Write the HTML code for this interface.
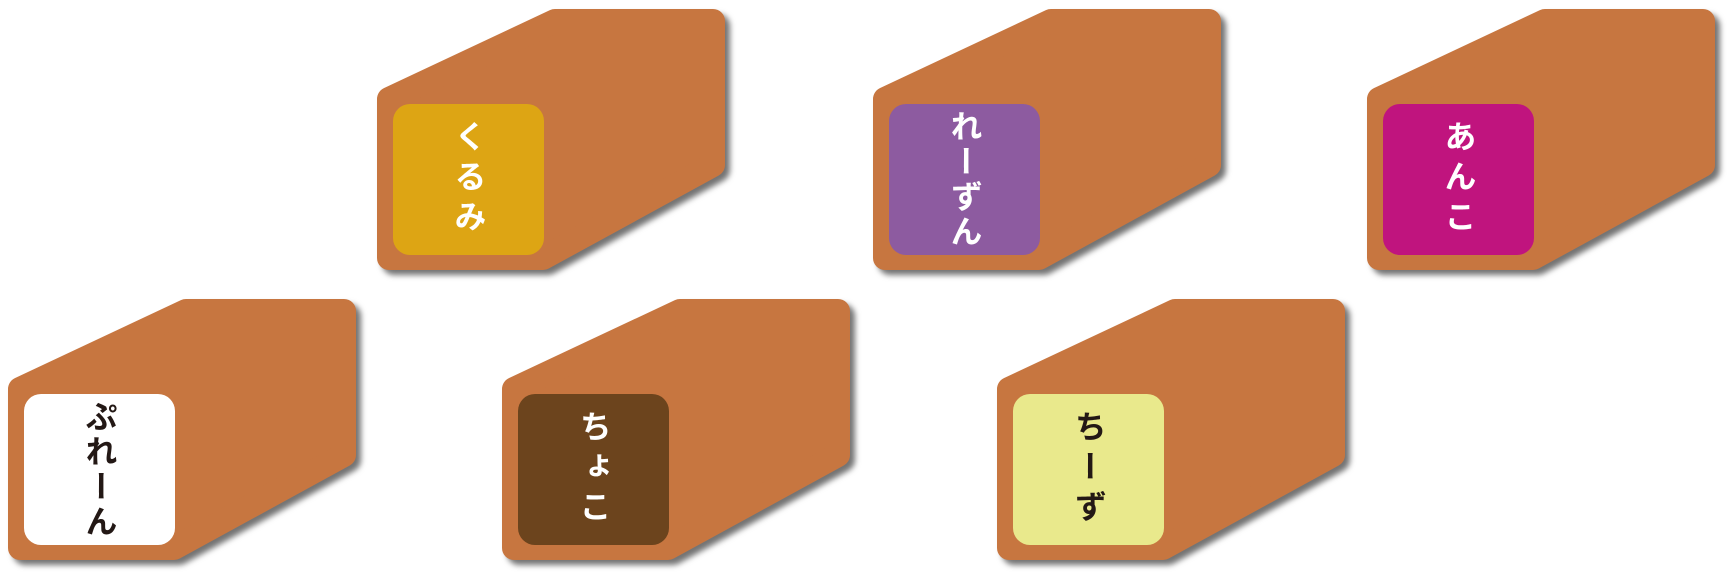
<!DOCTYPE html>
<html><head><meta charset="utf-8"><style>
html,body{margin:0;padding:0;background:#fff;width:1735px;height:584px;overflow:hidden;position:relative}
.b{position:absolute;width:360px;height:275px}
.b svg{position:absolute;left:0;top:0;overflow:visible;filter:drop-shadow(5px 5px 3px rgba(0,0,0,.55))}
.l{position:absolute;left:16px;top:95px;width:151px;height:151px;border-radius:17px;display:flex;align-items:center;justify-content:center}
.t{writing-mode:vertical-rl;white-space:nowrap;font-family:"Liberation Sans","Noto Sans CJK JP",sans-serif;font-size:32px;line-height:1;font-weight:700}
.s3{letter-spacing:8px}.s4{letter-spacing:3px}
.w{color:#fff}.k{color:#231815}
</style></head><body>
<div class="b" style="left:377px;top:9px"><svg width="360" height="275"><polygon points="12,90 178,12 336,12 336,156 166,249 12,249" fill="#C77640" stroke="#C77640" stroke-width="24" stroke-linejoin="round"/></svg><div class="l" style="background:#DDA514"><span class="t s3 w">くるみ</span></div></div>
<div class="b" style="left:873px;top:9px"><svg width="360" height="275"><polygon points="12,90 178,12 336,12 336,156 166,249 12,249" fill="#C77640" stroke="#C77640" stroke-width="24" stroke-linejoin="round"/></svg><div class="l" style="background:#8D5BA0"><span class="t s4 w">れーずん</span></div></div>
<div class="b" style="left:1367px;top:9px"><svg width="360" height="275"><polygon points="12,90 178,12 336,12 336,156 166,249 12,249" fill="#C77640" stroke="#C77640" stroke-width="24" stroke-linejoin="round"/></svg><div class="l" style="background:#C0147E"><span class="t s3 w">あんこ</span></div></div>
<div class="b" style="left:8px;top:299px"><svg width="360" height="275"><polygon points="12,90 178,12 336,12 336,156 166,249 12,249" fill="#C77640" stroke="#C77640" stroke-width="24" stroke-linejoin="round"/></svg><div class="l" style="background:#fff"><span class="t s4 k">ぷれーん</span></div></div>
<div class="b" style="left:502px;top:299px"><svg width="360" height="275"><polygon points="12,90 178,12 336,12 336,156 166,249 12,249" fill="#C77640" stroke="#C77640" stroke-width="24" stroke-linejoin="round"/></svg><div class="l" style="background:#6C441D"><span class="t s3 w">ちょこ</span></div></div>
<div class="b" style="left:997px;top:299px"><svg width="360" height="275"><polygon points="12,90 178,12 336,12 336,156 166,249 12,249" fill="#C77640" stroke="#C77640" stroke-width="24" stroke-linejoin="round"/></svg><div class="l" style="background:#E9E98C"><span class="t s3 k">ちーず</span></div></div>
</body></html>
